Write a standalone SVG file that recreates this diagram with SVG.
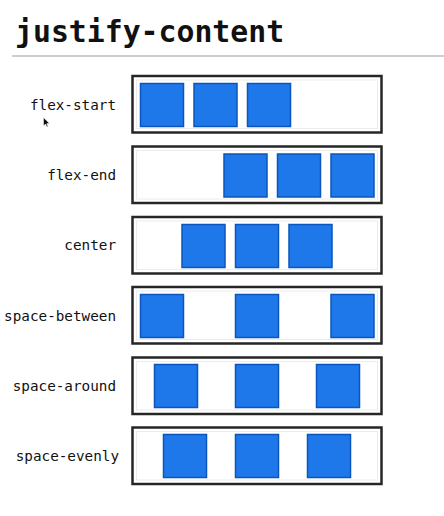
<svg xmlns="http://www.w3.org/2000/svg" width="444" height="516" viewBox="0 0 444 516">
<style>
.title{font-family:"DejaVu Sans Mono","Liberation Mono",monospace;font-weight:bold;font-size:29.8px;fill:#111}
.lbl{font-family:"DejaVu Sans Mono","Liberation Mono",monospace;font-size:14.3px;fill:#111;text-anchor:end}
.box{fill:#fff;stroke:#262626;stroke-width:2.5}
.inner{fill:none;stroke:#ececec;stroke-width:1}
.item{fill:#1f78ea;stroke:#0b55bd;stroke-width:1.5}
</style>
<rect width="444" height="516" fill="#fff"/>
<text class="title" x="15" y="42">justify-content</text>
<line x1="12" y1="56" x2="444" y2="56" stroke="#bdbdbd" stroke-width="1.5"/>
<g id="connectors"></g>
<g id="flex-start">
<text class="lbl" x="116" y="110">flex-start</text>
<rect class="box" x="132.5" y="76" width="249" height="56.5"/>
<rect class="inner" x="136.5" y="80" width="241" height="48.5"/>
<rect class="item" x="140.5" y="83.5" width="43" height="43"/>
<rect class="item" x="194" y="83.5" width="43" height="43"/>
<rect class="item" x="247.5" y="83.5" width="43" height="43"/>
</g>
<g id="flex-end">
<text class="lbl" x="116" y="180">flex-end</text>
<rect class="box" x="132.5" y="146.5" width="249" height="56.5"/>
<rect class="inner" x="136.5" y="150.5" width="241" height="48.5"/>
<rect class="item" x="224" y="154" width="43" height="43"/>
<rect class="item" x="277.5" y="154" width="43" height="43"/>
<rect class="item" x="331" y="154" width="43" height="43"/>
</g>
<g id="center">
<text class="lbl" x="116" y="250">center</text>
<rect class="box" x="132.5" y="217" width="249" height="56.5"/>
<rect class="inner" x="136.5" y="221" width="241" height="48.5"/>
<rect class="item" x="182" y="224.5" width="43" height="43"/>
<rect class="item" x="235.5" y="224.5" width="43" height="43"/>
<rect class="item" x="289" y="224.5" width="43" height="43"/>
</g>
<g id="space-between">
<text class="lbl" x="116" y="321">space-between</text>
<rect class="box" x="132.5" y="287" width="249" height="56.5"/>
<rect class="inner" x="136.5" y="291" width="241" height="48.5"/>
<rect class="item" x="140.5" y="294.5" width="43" height="43"/>
<rect class="item" x="235.5" y="294.5" width="43" height="43"/>
<rect class="item" x="331" y="294.5" width="43" height="43"/>
</g>
<g id="space-around">
<text class="lbl" x="116" y="391">space-around</text>
<rect class="box" x="132.5" y="357.5" width="249" height="56.5"/>
<rect class="inner" x="136.5" y="361.5" width="241" height="48.5"/>
<rect class="item" x="154.5" y="364.5" width="43" height="43"/>
<rect class="item" x="235.5" y="364.5" width="43" height="43"/>
<rect class="item" x="316.5" y="364.5" width="43" height="43"/>
</g>
<g id="space-evenly">
<text class="lbl" x="119" y="461">space-evenly</text>
<rect class="box" x="132.5" y="427.5" width="249" height="56.5"/>
<rect class="inner" x="136.5" y="431.5" width="241" height="48.5"/>
<rect class="item" x="163.5" y="434.5" width="43" height="43"/>
<rect class="item" x="235.5" y="434.5" width="43" height="43"/>
<rect class="item" x="307.5" y="434.5" width="43" height="43"/>
</g>
<polygon points="43.5,117.5 43.5,126 45.5,124 47,127 48,126.5 46.8,123.6 49.5,123.5" fill="#111" stroke="#fff" stroke-width="0.5"/>
</svg>
